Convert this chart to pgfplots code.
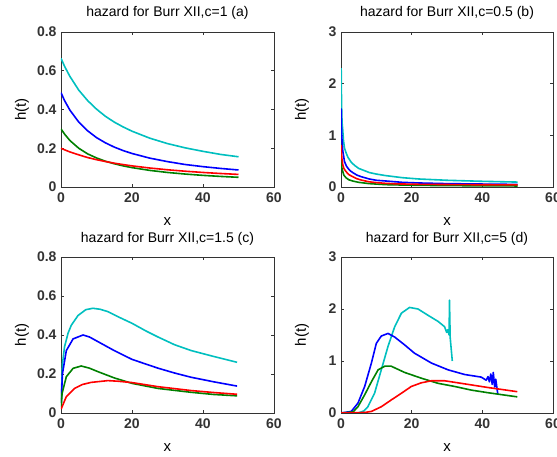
\documentclass[border=0pt]{standalone}
\usepackage{pgfplots}
\pgfplotsset{compat=1.18}
\usepackage{fontspec}
\setmainfont{Liberation Sans}
\definecolor{mcyan}{rgb}{0,0.75,0.75}
\definecolor{mgreen}{rgb}{0,0.5,0}
\definecolor{mblue}{rgb}{0,0,1}
\definecolor{mred}{rgb}{1,0,0}
\pgfplotsset{
  mstyle/.style={
    scale only axis,
    anchor=south west,
    xmin=0, xmax=60,
    xtick={0,20,40,60},
    tick align=inside,
    major tick length=3pt,
    axis line style={black!80, line width=0.8pt},
    every tick/.style={black!80, line width=0.6pt},
    /pgf/number format/assume math mode=true,
    tick label style={font=\fontsize{14}{14}\selectfont\bfseries, text=black!80},
    xticklabel style={yshift=-2pt},
    yticklabel style={xshift=-1pt},
    label style={font=\fontsize{15}{15}\selectfont},
    title style={font=\fontsize{14}{14}\selectfont},
    xlabel={x},
    ylabel={h(t)},
    every axis plot/.append style={line width=1.6pt, no markers, line join=round},
  },
}
\begin{document}
\begin{tikzpicture}
\useasboundingbox (0,0) rectangle (557pt,457pt);
% (a)
\begin{axis}[mstyle, at={(61pt,270pt)}, width=213pt, height=155pt,
  ymin=0, ymax=0.8, ytick={0,0.2,0.4,0.6,0.8},
  title={hazard for Burr XII,c=1 (a)},
  title style={at={(axis description cs:0.5,1.085)}, anchor=center},
  xlabel style={at={(axis description cs:0.5,-0.225)}, anchor=center},
  ylabel style={at={(axis description cs:-0.183,0.5)}, anchor=center, rotate=0}]
\addplot[mcyan] coordinates {(0,0.664)(1,0.623)(2.5,0.571)(5,0.500)(7.5,0.446)(10,0.402)(12.5,0.365)(15,0.335)(17.5,0.310)(20,0.288)(25,0.252)(30,0.224)(35,0.202)(40,0.184)(45,0.168)(50,0.156)};
\addplot[mblue] coordinates {(0,0.487)(1,0.446)(2.5,0.397)(5,0.335)(7.5,0.290)(10,0.255)(12.5,0.228)(15,0.206)(17.5,0.188)(20,0.173)(25,0.149)(30,0.131)(35,0.116)(40,0.105)(45,0.0957)(50,0.0878)};
\addplot[mgreen] coordinates {(0,0.300)(1,0.273)(2.5,0.240)(5,0.200)(7.5,0.171)(10,0.150)(12.5,0.133)(15,0.120)(17.5,0.109)(20,0.100)(25,0.0857)(30,0.075)(35,0.0667)(40,0.060)(45,0.0545)(50,0.050)};
\addplot[mred] coordinates {(0,0.200)(1,0.192)(2.5,0.181)(5,0.166)(7.5,0.152)(10,0.141)(12.5,0.1315)(15,0.123)(17.5,0.1157)(20,0.109)(25,0.098)(30,0.0889)(35,0.0814)(40,0.075)(45,0.0696)(50,0.0649)};
\end{axis}
% (b)
\begin{axis}[mstyle, at={(341pt,270pt)}, width=212pt, height=155pt,
  ymin=0, ymax=3, ytick={0,1,2,3},
  title={hazard for Burr XII,c=0.5 (b)},
  title style={at={(axis description cs:0.5,1.085)}, anchor=center},
  xlabel style={at={(axis description cs:0.5,-0.225)}, anchor=center},
  ylabel style={at={(axis description cs:-0.184,0.5)}, anchor=center, rotate=0}]
\addplot[mcyan] coordinates {(0.05,2.3)(0.1,1.9)(0.2,1.5)(0.3,1.25)(0.5,1.1)(0.7,0.9)(1,0.75)(1.5,0.65)(2,0.57)(3,0.47)(4,0.41)(5,0.36)(6.5,0.32)(8,0.28)(10,0.25)(12.7,0.22)(17.4,0.18)(22,0.155)(30,0.13)(40,0.11)(50,0.095)};
\addplot[mblue] coordinates {(0.05,1.52)(0.1,1.2)(0.2,1.0)(0.3,0.9)(0.5,0.7)(1,0.49)(1.5,0.41)(2,0.36)(2.5,0.32)(3.3,0.28)(4.5,0.23)(5.7,0.2)(8,0.155)(10,0.13)(12.7,0.116)(17.4,0.09)(22,0.078)(30,0.065)(40,0.057)(50,0.05)};
\addplot[mgreen] coordinates {(0.05,0.55)(0.1,0.45)(0.25,0.37)(0.5,0.3)(0.8,0.23)(1.4,0.18)(2.2,0.14)(3.3,0.116)(5,0.09)(8,0.065)(12.7,0.045)(18,0.037)(25,0.03)(40,0.022)(50,0.02)};
\addplot[mred] coordinates {(0.05,0.81)(0.1,0.7)(0.25,0.55)(0.5,0.43)(0.8,0.36)(1.4,0.3)(2.2,0.24)(3.3,0.2)(4.5,0.16)(5.7,0.135)(8,0.1)(10,0.085)(12.7,0.07)(16,0.06)(22,0.052)(35,0.045)(50,0.04)};
\end{axis}
% (c)
\begin{axis}[mstyle, at={(61pt,44pt)}, width=213pt, height=156pt,
  ymin=0, ymax=0.8, ytick={0,0.2,0.4,0.6,0.8},
  title={hazard for Burr XII,c=1.5 (c)},
  title style={at={(axis description cs:0.5,1.075)}, anchor=center},
  xlabel style={at={(axis description cs:0.5,-0.22)}, anchor=center},
  ylabel style={at={(axis description cs:-0.183,0.5)}, anchor=center, rotate=0}]
\addplot[mcyan] coordinates {(0.05,0.05)(0.4,0.25)(1,0.34)(2,0.41)(2.9,0.45)(4.8,0.50)(7,0.53)(9,0.537)(11,0.532)(13.2,0.52)(16.5,0.49)(20,0.46)(24,0.42)(27.3,0.39)(32,0.35)(36.7,0.32)(43,0.29)(49.6,0.26)};
\addplot[mblue] coordinates {(0.05,0.05)(0.4,0.2)(1.5,0.32)(3.4,0.38)(6.2,0.40)(8,0.39)(10.4,0.366)(15,0.32)(20,0.275)(27.3,0.23)(32,0.205)(36.7,0.183)(43,0.16)(49.6,0.138)};
\addplot[mgreen] coordinates {(0.05,0.03)(0.3,0.1)(1.5,0.186)(3.4,0.229)(5.7,0.241)(8,0.23)(10.4,0.212)(15,0.18)(20,0.152)(27.3,0.126)(36.7,0.106)(43,0.095)(49.6,0.088)};
\addplot[mred] coordinates {(0.05,0.02)(0.3,0.032)(1.5,0.084)(3.8,0.126)(6,0.146)(8.5,0.157)(13.2,0.166)(16,0.163)(20,0.156)(27.3,0.135)(36.7,0.115)(43,0.105)(49.6,0.096)};
\end{axis}
% (d)
\begin{axis}[mstyle, at={(341pt,44pt)}, width=212pt, height=156pt,
  ymin=0, ymax=3, ytick={0,1,2,3},
  title={hazard for Burr XII,c=5 (d)},
  title style={at={(axis description cs:0.5,1.075)}, anchor=center},
  xlabel style={at={(axis description cs:0.5,-0.22)}, anchor=center},
  ylabel style={at={(axis description cs:-0.184,0.5)}, anchor=center, rotate=0}]
\addplot[mcyan] coordinates {(0,0)(4.8,0)(6.5,0.04)(7.6,0.12)(9.5,0.38)(11.4,0.83)(13.3,1.28)(15.2,1.66)(17.1,1.92)(19.4,2.03)(21.8,2.0)(24.6,1.88)(27.5,1.76)(29.3,1.66)(29.9,1.55)(30.2,1.6)(30.6,1.5)(30.7,2.17)(30.9,1.45)(31.5,1.0)};
\addplot[mblue] coordinates {(0,0)(2.9,0.03)(4.8,0.19)(6.7,0.51)(8.6,0.96)(10,1.34)(11.4,1.48)(13.3,1.53)(15.2,1.46)(18,1.31)(20.8,1.15)(25.6,0.96)(30.3,0.83)(35,0.74)(39.7,0.69)(41.1,0.63)(41.6,0.7)(42,0.6)(42.4,0.75)(42.8,0.55)(43.1,0.78)(43.5,0.5)(43.8,0.65)(44.4,0.35)};
\addplot[mgreen] coordinates {(0,0)(3.4,0.02)(4.8,0.12)(6.7,0.35)(8.6,0.60)(10.5,0.83)(12.4,0.90)(14.2,0.90)(18,0.78)(22.7,0.67)(27.5,0.57)(32.2,0.51)(36.9,0.44)(41.6,0.39)(49.9,0.31)};
\addplot[mred] coordinates {(0,0)(6.7,0.01)(8.6,0.03)(11.4,0.12)(14.2,0.25)(17.1,0.38)(19.9,0.51)(22.7,0.58)(25.6,0.62)(29.3,0.62)(33.1,0.58)(36.9,0.54)(41.6,0.49)(49.9,0.41)};
\end{axis}
\end{tikzpicture}
\end{document}
